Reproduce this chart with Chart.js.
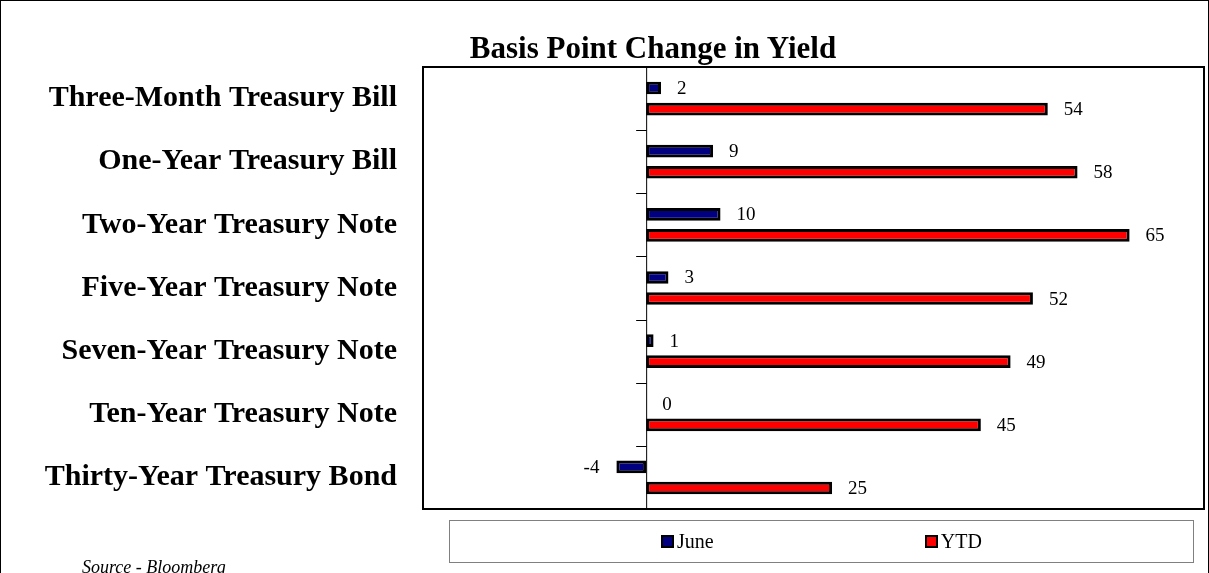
<!DOCTYPE html>
<html lang="en">

<head>
    <meta charset="UTF-8">
    <title>Basis Point Change in Yield</title>
    <script src="https://cdn.jsdelivr.net/npm/chart.js@4.4.0/dist/chart.umd.min.js"></script>
    <style>
        body {
            margin: 0;
            background: #fff;
            font-family: 'Times New Roman', 'Liberation Serif', serif;
        }

        #page {
            position: relative;
            width: 1207px;
            height: 600px;
            border: 1px solid #000;
            overflow: hidden;
        }

        #wrap {
            position: absolute;
            left: -1px;
            top: -1px;
            width: 1209px;
            height: 573px;
        }

        #title {
            position: absolute;
            left: 452px;
            width: 400px;
            top: 30px;
            text-align: center;
            font-weight: bold;
            font-size: 31px;
            line-height: 34px;
        }

        #legend {
            position: absolute;
            left: 448px;
            top: 519px;
            width: 743px;
            height: 41px;
            border: 1px solid #808080;
            display: flex;
            justify-content: space-evenly;
            align-items: center;
            font-size: 20px;
        }

        .item {
            display: flex;
            align-items: center;
        }

        .box {
            width: 9px;
            height: 9px;
            border: 2px solid #000;
            margin-right: 3px;
        }

        #source {
            position: absolute;
            left: 81px;
            top: 556px;
            font-style: italic;
            font-size: 18px;
        }
    </style>
</head>

<body>
    <div id="page">
        <div id="wrap"><canvas id="chart"></canvas></div>
        <div id="title">Basis Point Change in Yield</div>
        <div id="legend"></div>
        <div id="source">Source - Bloomberg</div>
    </div>

    <script>
        // datos
        const categorias = [
            'Three-Month Treasury Bill',
            'One-Year Treasury Bill',
            'Two-Year Treasury Note',
            'Five-Year Treasury Note',
            'Seven-Year Treasury Note',
            'Ten-Year Treasury Note',
            'Thirty-Year Treasury Bond'
        ];
        const serieJune = [2, 9, 10, 3, 1, 0, -4];
        const serieYTD = [54, 58, 65, 52, 49, 45, 25];
        const nombres = ['June', 'YTD'];
        const colores = ['#000080', '#FF0000'];

        const fuente = "'Times New Roman', 'Liberation Serif', serif";

        // marco del area, linea del cero y marcas de categoria
        const marcoPlugin = {
            id: 'marco',
            beforeDatasetsDraw(chart) {
                const { ctx, chartArea, scales } = chart;
                const x0 = scales.x.getPixelForValue(0);
                ctx.save();
                ctx.strokeStyle = '#000';
                ctx.lineWidth = 1;
                ctx.beginPath();
                ctx.moveTo(x0 + 0.5, chartArea.top);
                ctx.lineTo(x0 + 0.5, chartArea.bottom);
                for (let i = 1; i < categorias.length; i++) {
                    const y = Math.round(scales.y.getPixelForValue(i - 0.5)) + 0.5;
                    ctx.moveTo(x0 - 10, y);
                    ctx.lineTo(x0 + 0.5, y);
                }
                ctx.stroke();
                ctx.restore();
            },
            afterDraw(chart) {
                const { ctx, chartArea } = chart;
                ctx.save();
                ctx.strokeStyle = '#000';
                ctx.lineWidth = 2;
                ctx.strokeRect(chartArea.left, chartArea.top, chartArea.width, chartArea.height);
                ctx.restore();
            }
        };

        // etiquetas de valor junto a cada barra
        const etiquetasPlugin = {
            id: 'etiquetas',
            afterDatasetsDraw(chart) {
                const { ctx } = chart;
                ctx.save();
                ctx.fillStyle = '#000';
                ctx.font = '19px ' + fuente;
                ctx.textBaseline = 'middle';
                chart.data.datasets.forEach((ds, i) => {
                    chart.getDatasetMeta(i).data.forEach((bar, j) => {
                        const v = ds.data[j];
                        if (v < 0) {
                            ctx.textAlign = 'right';
                            ctx.fillText(String(v), bar.x - 17, bar.y + 1);
                        } else {
                            ctx.textAlign = 'left';
                            ctx.fillText(String(v), bar.x + 16, bar.y + 1);
                        }
                    });
                });
                ctx.restore();
            }
        };

        const ctx = document.getElementById('chart').getContext('2d');
        const chart = new Chart(ctx, {
            type: 'bar',
            data: {
                labels: categorias,
                datasets: [{
                    label: nombres[0],
                    data: serieJune,
                    backgroundColor: colores[0],
                    borderColor: '#000',
                    borderWidth: 3,
                    borderSkipped: false
                },
                {
                    label: nombres[1],
                    data: serieYTD,
                    backgroundColor: colores[1],
                    borderColor: '#000',
                    borderWidth: 3,
                    borderSkipped: false
                }]
            },
            options: {
                indexAxis: 'y',
                responsive: true,
                maintainAspectRatio: false,
                animation: false,
                categoryPercentage: 0.667,
                barPercentage: 0.6,
                layout: {
                    padding: { top: 67, bottom: 64, right: 5, left: 0 }
                },
                plugins: {
                    legend: { display: false },
                    tooltip: { enabled: false }
                },
                scales: {
                    x: {
                        min: -30,
                        max: 75,
                        ticks: { display: false, stepSize: 10 },
                        grid: { display: false, drawTicks: false },
                        border: { display: false },
                        afterFit(s) { s.height = 0; }
                    },
                    y: {
                        position: 'left',
                        grid: { display: false, drawTicks: false },
                        border: { display: false },
                        ticks: {
                            color: '#000',
                            padding: 26,
                            font: { family: fuente, size: 30, weight: 'bold' }
                        },
                        afterFit(s) { s.width = 423; }
                    }
                }
            },
            plugins: [marcoPlugin, etiquetasPlugin]
        });

        // leyenda en html con el recuadro gris
        const leyenda = document.getElementById('legend');
        nombres.forEach((n, i) => {
            const item = document.createElement('div');
            item.className = 'item';
            const caja = document.createElement('span');
            caja.className = 'box';
            caja.style.background = colores[i];
            item.appendChild(caja);
            item.appendChild(document.createTextNode(n));
            leyenda.appendChild(item);
        });
    </script>
</body>

</html>
